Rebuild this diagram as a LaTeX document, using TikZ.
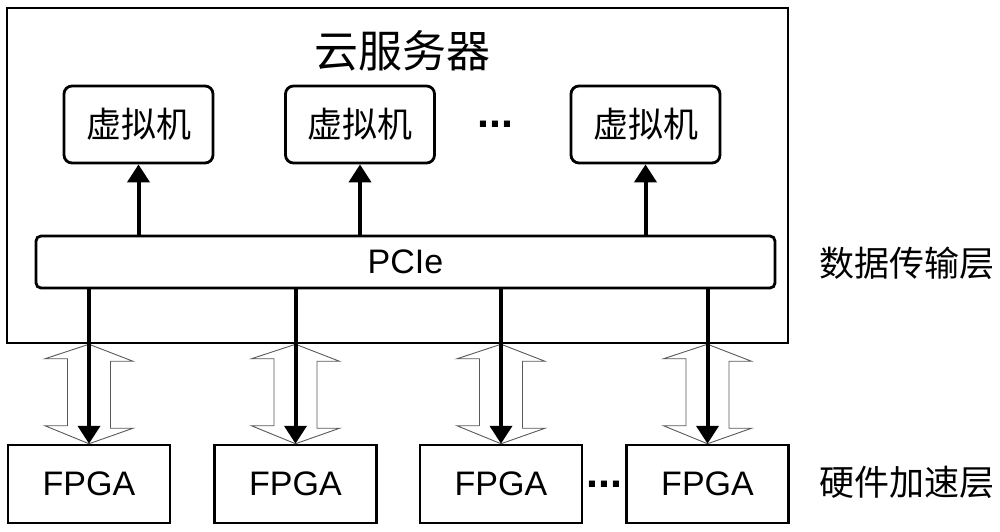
\documentclass[tikz,border=0pt]{standalone}
\usepackage{fontspec}
\setmainfont{Liberation Sans}
\newfontfamily\cjk{Noto Sans CJK SC}
\usetikzlibrary{arrows.meta}

\tikzset{
  vmbox/.style={draw, line width=2.8pt, rounded corners=8pt, minimum width=149pt, minimum height=77pt, inner sep=0pt, font=\cjk\fontsize{35}{40}\selectfont},
  fpgabox/.style={draw, line width=2.5pt, minimum width=162pt, minimum height=78pt, inner sep=0pt, font=\fontsize{34}{40}\selectfont},
  layer/.style={font=\cjk\fontsize{35}{40}\selectfont},
  bus/.style={line width=4pt, -{Triangle[width=22pt, length=18pt]}},
  hollow/.style={draw=black!65, fill=white, line width=0.9pt, line join=miter}
}

\newcommand{\hollowarrow}[1]{%
  \draw[hollow] (server.south -| #1.north) -- ++(44,17) -- ++(-22.5,0) -- ++(0,67)
    -- ++(22.5,0) -- (#1.north) -- ++(-44,-18) -- ++(22.5,0) -- ++(0,-67)
    -- ++(-22.5,0) -- cycle;}

\begin{document}
\begin{tikzpicture}[x=1pt, y=-1pt]
  \useasboundingbox (0,0) rectangle (1000,532);

  \node[draw, line width=2.5pt, minimum width=781pt, minimum height=335pt, inner sep=0pt] (server) at (397.5,175.5) {};
  \node[font=\cjk\fontsize{44}{48}\selectfont] (title) at (402,51) {云服务器};

  \node[vmbox] (vm1) at (138.5,124.5) {虚拟机};
  \node[vmbox] (vm2) at (360,124.5) {虚拟机};
  \node[vmbox] (vm3) at (645.5,124.5) {虚拟机};
  \node[font=\bfseries\fontsize{43}{45}\selectfont] (vmdots) at (495.5,124) {...};

  \node[draw, line width=2.8pt, rounded corners=5pt, minimum width=739pt, minimum height=52pt, inner sep=0pt, font=\fontsize{34}{40}\selectfont] (pcie) at (405.5,262) {PCIe};

  \node[fpgabox] (fpga1) at (89,484) {FPGA};
  \node[fpgabox] (fpga2) at (295.5,484) {FPGA};
  \node[fpgabox] (fpga3) at (501,484) {FPGA};
  \node[fpgabox] (fpga4) at (707.5,484) {FPGA};
  \node[font=\bfseries\fontsize{43}{45}\selectfont] (fpgadots) at (604.5,484) {...};

  \node[layer] (translayer) at (907,263) {数据传输层};
  \node[layer] (hwlayer) at (907,482) {硬件加速层};

  % PCIe up to the virtual machines
  \draw[bus] (vm1.south |- pcie.north) -- (vm1.south);
  \draw[bus] (vm2.south |- pcie.north) -- (vm2.south);
  \draw[bus] (vm3.south |- pcie.north) -- (vm3.south);

  % hollow two-way arrows behind the links
  \hollowarrow{fpga1}
  \hollowarrow{fpga2}
  \hollowarrow{fpga3}
  \hollowarrow{fpga4}

  % PCIe down to the FPGA boards
  \draw[bus] (fpga1.north |- pcie.south) -- (fpga1.north);
  \draw[bus] (fpga2.north |- pcie.south) -- (fpga2.north);
  \draw[bus] (fpga3.north |- pcie.south) -- (fpga3.north);
  \draw[bus] (fpga4.north |- pcie.south) -- (fpga4.north);
\end{tikzpicture}
\end{document}
